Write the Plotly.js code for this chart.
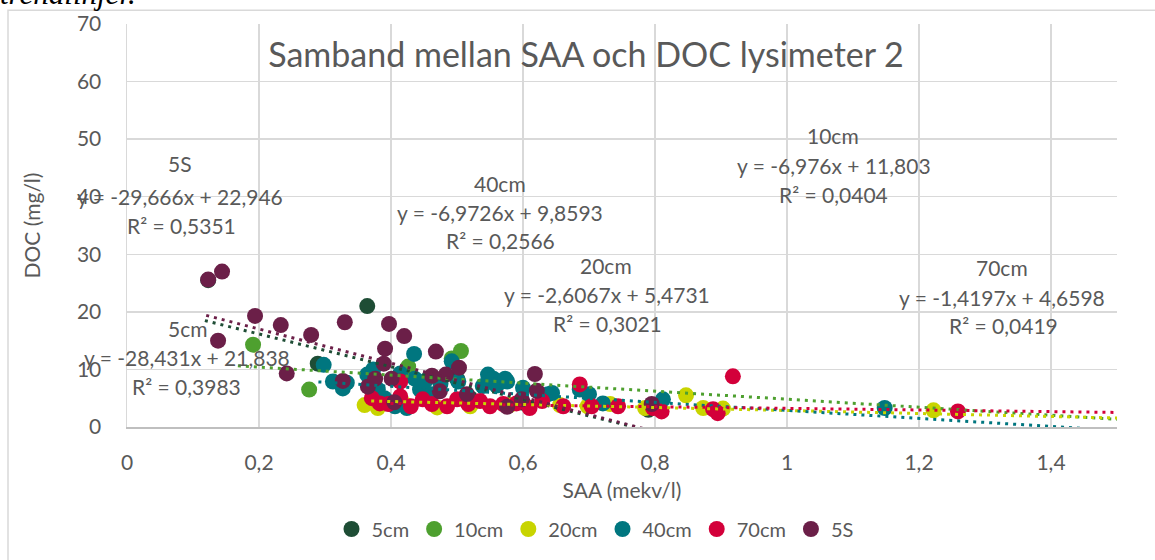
<!DOCTYPE html>
<html><head><meta charset="utf-8">
<script src="https://cdn.plot.ly/plotly-3.0.1.min.js"></script>
<style>html,body{margin:0;padding:0;background:#fff;}#chart{width:1155px;height:560px;}</style>
</head><body><div id="chart"></div>
<script>
// ---- data ----
const seriesNames = ['5cm','10cm','20cm','40cm','70cm','5S'];
const seriesColors = ['#1E4D35','#4EA02F','#C8D400','#00767F','#D3003A','#6B1F48'];

const x5cm = [0.123,0.289,0.364,0.500,0.520,0.600,0.790];
const y5cm = [25.5,11.0,21.0,8.4,5.0,4.2,3.0];

const x10cm = [0.191,0.276,0.426,0.492,0.506];
const y10cm = [14.3,6.5,10.5,11.9,13.2];

const x20cm = [0.36,0.38,0.42,0.47,0.52,0.58,0.656,0.698,0.732,0.785,0.847,0.873,0.903,1.222];
const y20cm = [3.8,3.3,4.0,3.4,3.6,3.8,3.8,3.6,4.0,3.3,5.5,3.3,3.2,2.9];

const x40cm = [0.298,0.312,0.327,0.333,0.364,0.373,0.380,0.390,0.406,0.414,0.424,0.435,0.436,0.444,0.452,0.462,0.475,0.492,0.502,0.517,0.539,0.547,0.555,0.560,0.573,0.576,0.600,0.638,0.644,0.686,0.700,0.721,0.812,1.148];
const y40cm = [10.8,7.9,6.7,7.7,9.1,10.0,6.5,5.0,3.6,9.3,3.3,12.7,8.4,6.5,8.0,5.7,7.5,11.4,7.9,5.0,7.1,9.1,8.4,7.2,8.4,7.9,6.8,5.7,5.9,6.5,5.7,4.1,4.8,3.3];

const x70cm = [0.371,0.383,0.396,0.414,0.414,0.430,0.448,0.462,0.485,0.500,0.517,0.535,0.550,0.570,0.590,0.610,0.629,0.661,0.686,0.704,0.744,0.797,0.810,0.888,0.895,0.918,1.259];
const y70cm = [5.0,4.1,4.0,5.3,7.9,3.6,4.8,4.0,3.6,4.8,4.0,4.5,3.6,4.0,4.1,3.3,4.5,3.6,7.4,3.6,3.6,3.3,2.7,3.1,2.4,8.8,2.7];

const x5S = [0.123,0.144,0.138,0.194,0.233,0.242,0.279,0.330,0.327,0.365,0.376,0.389,0.391,0.397,0.401,0.405,0.420,0.462,0.468,0.474,0.483,0.503,0.515,0.576,0.598,0.618,0.621,0.795];
const y5S = [25.6,27.0,15.0,19.3,17.7,9.3,16.0,18.2,8.0,7.0,8.4,11.0,13.6,17.9,8.4,4.3,15.8,8.9,13.1,6.2,9.1,10.3,5.7,3.5,4.8,9.2,6.3,4.0];

const seriesX = [x5cm,x10cm,x20cm,x40cm,x70cm,x5S];
const seriesY = [y5cm,y10cm,y20cm,y40cm,y70cm,y5S];

// linear trendlines (Excel): slope, intercept, R², x extent
const trendSlope = [-28.431,-6.976,-2.6067,-6.9726,-1.4197,-29.666];
const trendIntercept = [21.838,11.803,5.4731,9.8593,4.6598,22.946];
const trendR2 = ['0,3983','0,0404','0,3021','0,2566','0,0419','0,5351'];
const trendXmin = [0.118,0.168,0.37,0.29,0.375,0.12];
const trendXmax = [0.80,1.5,1.5,1.5,1.5,0.80];

const xTickVals = [0,0.2,0.4,0.6,0.8,1,1.2,1.4];
const yTickVals = [0,10,20,30,40,50,60,70];

// ---- layout helpers ----
const W=1155,H=560,M={l:127,r:38,t:24,b:129};
const px = x => (x-M.l)/(W-M.l-M.r);
const py = y => 1-(y-M.t)/(H-M.t-M.b);
const FONT = 'Lato, "Open Sans", sans-serif';
const FS = 21;
const TXT = '#595959';
const fmt = v => String(Math.abs(v)).replace('.',',');

const traces = [];
seriesNames.forEach((n,i)=>{
  traces.push({type:'scatter',mode:'markers',name:n,x:seriesX[i],y:seriesY[i],
    marker:{color:seriesColors[i],size:16,line:{width:0}},cliponaxis:true});
});
seriesNames.forEach((n,i)=>{
  const xs=[trendXmin[i],trendXmax[i]];
  traces.push({type:'scatter',mode:'lines',showlegend:false,hoverinfo:'skip',x:xs,
    y:xs.map(v=>trendSlope[i]*v+trendIntercept[i]),
    line:{color:seriesColors[i],width:3,dash:'3px,5px'}});
});

// trendline label positions (pixel centres of the three lines)
const labelPos = [
  [[187,332],[187,361],[186,390]],  // 5cm
  [[833,137],[834,167],[833,196]],  // 10cm
  [[606,268],[607,297],[607,326]],  // 20cm
  [[500,185],[500,214],[500,243]],  // 40cm
  [[1002,270],[1002,300],[1003,328]], // 70cm
  [[180,165],[180,198],[181,227]]   // 5S
];
const annotations=[];
seriesNames.forEach((n,i)=>{
  const eq = 'y = '+(trendSlope[i]<0?'-':'')+fmt(trendSlope[i])+'x + '+fmt(trendIntercept[i]);
  const lines=[n,eq,'R² = '+trendR2[i]];
  lines.forEach((t,k)=>{
    const p=labelPos[i][k];
    annotations.push({text:t,xref:'paper',yref:'paper',x:px(p[0]),y:py(p[1]),xanchor:'center',yanchor:'middle',
      showarrow:false,font:{family:FONT,size:FS,color:TXT}});
  });
});
annotations.push({text:'<i>trendlinjer.</i>',xref:'paper',yref:'paper',x:px(-2),y:py(13),xanchor:'left',yanchor:'bottom',
  showarrow:false,font:{family:'"Liberation Serif", serif',size:31,color:'#000'}});

const layout={
  width:W,height:H,margin:M,paper_bgcolor:'#fff',plot_bgcolor:'#fff',
  separators:', ',
  font:{family:FONT,size:FS,color:TXT},
  title:{text:'Samband mellan SAA och DOC lysimeter 2',font:{family:FONT,size:34,color:TXT},
    x:586/W,xref:'container',xanchor:'center',y:1-55/H,yref:'container',yanchor:'middle'},
  xaxis:{range:[0,1.5],tickvals:xTickVals,showgrid:true,gridcolor:'#d9d9d9',gridwidth:1.5,zeroline:false,
    showline:true,linecolor:'#bfbfbf',linewidth:2,ticks:'',ticklabelstandoff:16,
    tickfont:{family:FONT,size:FS,color:TXT},
    title:{text:'SAA (mekv/l)',font:{family:FONT,size:FS,color:TXT},standoff:10}},
  yaxis:{range:[0,70],tickvals:yTickVals,showgrid:true,gridcolor:'#d9d9d9',gridwidth:1.5,zeroline:false,
    showline:true,linecolor:'#d9d9d9',linewidth:1.5,ticks:'',ticklabelstandoff:20,
    tickfont:{family:FONT,size:FS,color:TXT},
    title:{text:'DOC (mg/l)',font:{family:FONT,size:FS,color:TXT},standoff:30}},
  legend:{orientation:'h',x:px(595),xanchor:'center',y:py(534),yanchor:'middle',
    font:{family:FONT,size:20,color:TXT},bgcolor:'rgba(0,0,0,0)'},
  showlegend:true,
  annotations:annotations,
  shapes:[{type:'rect',xref:'paper',yref:'paper',x0:px(8),y0:py(10),x1:px(1170),y1:py(575),
    line:{color:'#d9d9d9',width:1.5},fillcolor:'rgba(0,0,0,0)',layer:'below'}]
};
Plotly.newPlot('chart',traces,layout,{staticPlot:true});
</script></body></html>
